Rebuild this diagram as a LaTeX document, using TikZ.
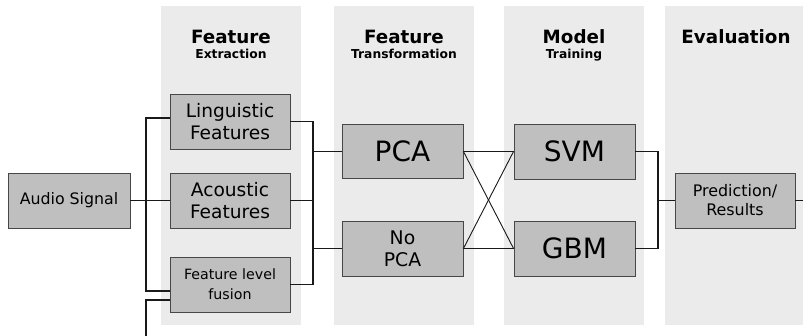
\documentclass[tikz,border=0pt]{standalone}
\usepackage{fontspec}
\setmainfont{DejaVu Sans}
\begin{document}
\begin{tikzpicture}[x=1pt,y=-1pt,
  colbg/.style={fill=black!8,draw=none},
  box/.style={draw=black!72,line width=0.9pt,fill=black!25,text=black,
    minimum width=#1,minimum height=55,inner sep=1pt,align=center},
  box/.default=120,
  wire/.style={draw=black!90,line width=1.6pt},
  thin/.style={draw=black!90,line width=0.9pt},
  head/.style={font=\bfseries\fontsize{18.3}{20}\selectfont,anchor=base,text=black},
  sub/.style={font=\bfseries\fontsize{12.3}{14}\selectfont,anchor=base,text=black}]
\useasboundingbox (0,0) rectangle (803,336);
\fill[white] (0,0) rectangle (803,336);
% column backgrounds
\fill[colbg] (161,6) rectangle (301,325);
\fill[colbg] (334,6) rectangle (474,325);
\fill[colbg] (504,6) rectangle (644,325);
\fill[colbg] (665,6) rectangle (803,325);
% headers
\node[head] (h1) at (231,44) {Feature};
\node[sub]  (s1) at (231,59) {Extraction};
\node[head] (h2) at (404,44) {Feature};
\node[sub]  (s2) at (404,59) {Transformation};
\node[head] (h3) at (574,44) {Model};
\node[sub]  (s3) at (574,59) {Training};
\node[head] (h4) at (736,44) {Evaluation};
% boxes
\node[box=122,font=\fontsize{15.8}{19}\selectfont] (audio) at (69,200.5) {Audio Signal};
\node[box,font=\fontsize{18.6}{22}\selectfont] (ling) at (230,121.5) {Linguistic\\Features};
\node[box,font=\fontsize{18.6}{22}\selectfont] (acou) at (230,200.5) {Acoustic\\Features};
\node[box,font=\fontsize{14.2}{20}\selectfont] (fus) at (230,284.5) {Feature level\\fusion};
\node[box=121,minimum height=54,font=\fontsize{28}{30}\selectfont] (pca) at (402.5,151.5) {PCA};
\node[box=121,font=\fontsize{18.8}{22}\selectfont] (nopca) at (402.5,248.5) {No\\PCA};
\node[box=121,font=\fontsize{28}{30}\selectfont] (svm) at (574.5,151.5) {SVM};
\node[box=121,font=\fontsize{28}{30}\selectfont] (gbm) at (574.5,248.5) {GBM};
\node[box,font=\fontsize{15.9}{19}\selectfont] (pred) at (735,200.5) {Prediction/\\Results};
% coordinates
\coordinate (b1t) at (146,118);
\coordinate (b1b) at (146,291);
\coordinate (b2t) at (146,300);
\coordinate (b2b) at (146,336);
\coordinate (b3) at (313,0);
\coordinate (b4) at (658,0);
\coordinate (pe) at (803,200.5);
% connectors
\draw[wire] (audio.east) -- (acou.west);
\draw[wire] ([yshift=3.5pt]ling.west) -- (b1t) -- (b1b) -- ([yshift=-6.5pt]fus.west);
\draw[wire] ([yshift=-15.5pt]fus.west) -- (b2t) -- (b2b);
\draw[wire] (ling.east) -| (b3 |- fus.east) -- (fus.east);
\draw[wire] (acou.east) -- (b3 |- acou.east);
\draw[wire] (b3 |- pca.west) -- (pca.west);
\draw[wire] (b3 |- nopca.west) -- (nopca.west);
\draw[thin] (pca.east) -- (svm.west);
\draw[thin] (nopca.east) -- (gbm.west);
\draw[thin] (pca.east) -- (gbm.west);
\draw[thin] (nopca.east) -- (svm.west);
\draw[wire] (svm.east) -| (b4 |- gbm.east) -- (gbm.east);
\draw[wire] (b4 |- pred.west) -- (pred.west);
\draw[wire] (pred.east) -- (pe);
\end{tikzpicture}
\end{document}
